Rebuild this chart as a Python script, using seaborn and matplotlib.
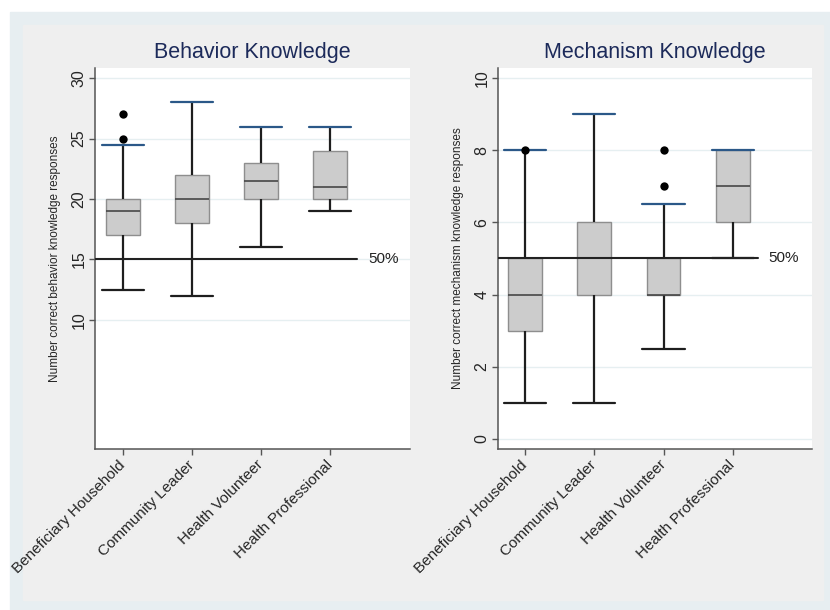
import matplotlib
matplotlib.use("Agg")
import matplotlib.pyplot as plt
import matplotlib.transforms as mtransforms
from matplotlib.patches import Rectangle
import seaborn as sns
import pandas as pd

# ----------------------------------------------------------------------
# Data
# ----------------------------------------------------------------------
groups = ["Beneficiary Household", "Community Leader", "Health Volunteer", "Health Professional"]

# five-number summaries: lower whisker, Q1, median, Q3, upper whisker
behavior_low = [12.5, 12, 16, 19]
behavior_q1 = [17, 18, 20, 20]
behavior_med = [19, 20, 21.5, 21]
behavior_q3 = [20, 22, 23, 24]
behavior_high = [24.5, 28, 26, 26]
behavior_out_group = ["Beneficiary Household", "Beneficiary Household"]
behavior_out_value = [25, 27]

mechanism_low = [1, 1, 2.5, 5]
mechanism_q1 = [3, 4, 4, 6]
mechanism_med = [4, 5, 4, 7]
mechanism_q3 = [5, 6, 5, 8]
mechanism_high = [8, 9, 6.5, 8]
mechanism_out_group = ["Beneficiary Household", "Health Volunteer", "Health Volunteer"]
mechanism_out_value = [8, 7, 8]

half_behavior = 15
half_mechanism = 5

# ----------------------------------------------------------------------
# Style
# ----------------------------------------------------------------------
sns.set_style("white")
plt.rcParams["font.family"] = ["Liberation Sans", "DejaVu Sans"]

BOX_FACE = "#cccccc"
BOX_EDGE = "#8e8e8e"
WHISKER = "#1e1e1e"
TOP_CAP = "#2b5888"
TITLE_COLOR = "#1c2a5a"
SPINE = "#555555"
GRID = "#e6eff1"


def summary_frame(low, q1, med, q3, high):
    """Long-form frame: each group's five numbers give the exact box with whis=(0, 100)."""
    rows = []
    for g, *vals in zip(groups, low, q1, med, q3, high):
        rows += [{"group": g, "value": v} for v in vals]
    return pd.DataFrame(rows)


def draw_panel(ax, df, out_group, out_value, title, ylabel, half, ylim, yticks, xlim, line_end):
    sns.boxplot(
        data=df, x="group", y="value", order=groups, ax=ax,
        whis=(0, 100), width=0.49, showfliers=False,
        color=BOX_FACE, linecolor=BOX_EDGE, linewidth=1.0,
        boxprops={"facecolor": BOX_FACE, "edgecolor": BOX_EDGE, "zorder": 2},
        medianprops={"color": "#474747", "linewidth": 1.2},
        whiskerprops={"color": WHISKER, "linewidth": 1.6},
        capprops={"color": WHISKER, "linewidth": 1.6},
        capwidths=0.61,
    )
    for cont in ax.containers:
        caps = getattr(cont, "caps", [])
        for cap in caps[1::2]:
            cap.set_color(TOP_CAP)

    sns.stripplot(x=out_group, y=out_value, order=groups, jitter=False,
                  color="black", size=6, ax=ax, zorder=5)

    ax.axhline(half, xmin=0, xmax=line_end, color="#222222", lw=1.5, zorder=4)
    trans = mtransforms.blended_transform_factory(ax.transAxes, ax.transData)
    ax.text(line_end + 0.035, half, "50%", transform=trans, fontsize=11,
            va="center", ha="left", color="#222222")

    ax.set_xlim(*xlim)
    ax.set_ylim(*ylim)
    ax.set_yticks(yticks)
    ax.yaxis.grid(True, color=GRID, lw=1.0)
    ax.set_axisbelow(True)
    ax.set_facecolor("white")

    for side in ["top", "right"]:
        ax.spines[side].set_visible(False)
    for side in ["left", "bottom"]:
        ax.spines[side].set_color(SPINE)
        ax.spines[side].set_linewidth(1.1)

    ax.tick_params(axis="both", direction="out", length=4, width=1, color=SPINE,
                   left=True, bottom=True)
    ax.tick_params(axis="y", labelrotation=90, pad=2, labelsize=11.5)
    for lbl in ax.get_yticklabels():
        lbl.set_va("center")
    ax.set_xticks(range(len(groups)))
    ax.set_xticklabels(groups, rotation=45, ha="right", rotation_mode="anchor",
                       va="center", fontsize=11)
    ax.tick_params(axis="x", pad=6)

    ax.set_xlabel("")
    ax.set_ylabel(ylabel, fontsize=8.5, labelpad=8)
    ax.set_title(title, fontsize=15.5, color=TITLE_COLOR, pad=7)


fig = plt.figure(figsize=(8.3, 6.1), dpi=100, facecolor="white")
fig.patches.append(Rectangle((10 / 830, 0), 820 / 830, 598 / 610,
                             transform=fig.transFigure, color="#e7eef1", zorder=-2))
fig.patches.append(Rectangle((23 / 830, 10 / 610), 800 / 830, 575 / 610,
                             transform=fig.transFigure, color="#efefef", zorder=-1))

ax_b = fig.add_axes([0.1145, 0.264, 0.3795, 0.6246])
ax_m = fig.add_axes([0.600, 0.264, 0.378, 0.6246])

draw_panel(
    ax_b,
    summary_frame(behavior_low, behavior_q1, behavior_med, behavior_q3, behavior_high),
    behavior_out_group, behavior_out_value,
    "Behavior Knowledge", "Number correct behavior knowledge responses",
    half_behavior, (-0.7, 30.85), [10, 15, 20, 25, 30], (-0.41, 4.16), 0.832,
)
draw_panel(
    ax_m,
    summary_frame(mechanism_low, mechanism_q1, mechanism_med, mechanism_q3, mechanism_high),
    mechanism_out_group, mechanism_out_value,
    "Mechanism Knowledge", "Number correct mechanism knowledge responses",
    half_mechanism, (-0.28, 10.28), [0, 2, 4, 6, 8, 10], (-0.39, 4.14), 0.828,
)

fig.savefig("out.png", dpi=100, facecolor=fig.get_facecolor())
